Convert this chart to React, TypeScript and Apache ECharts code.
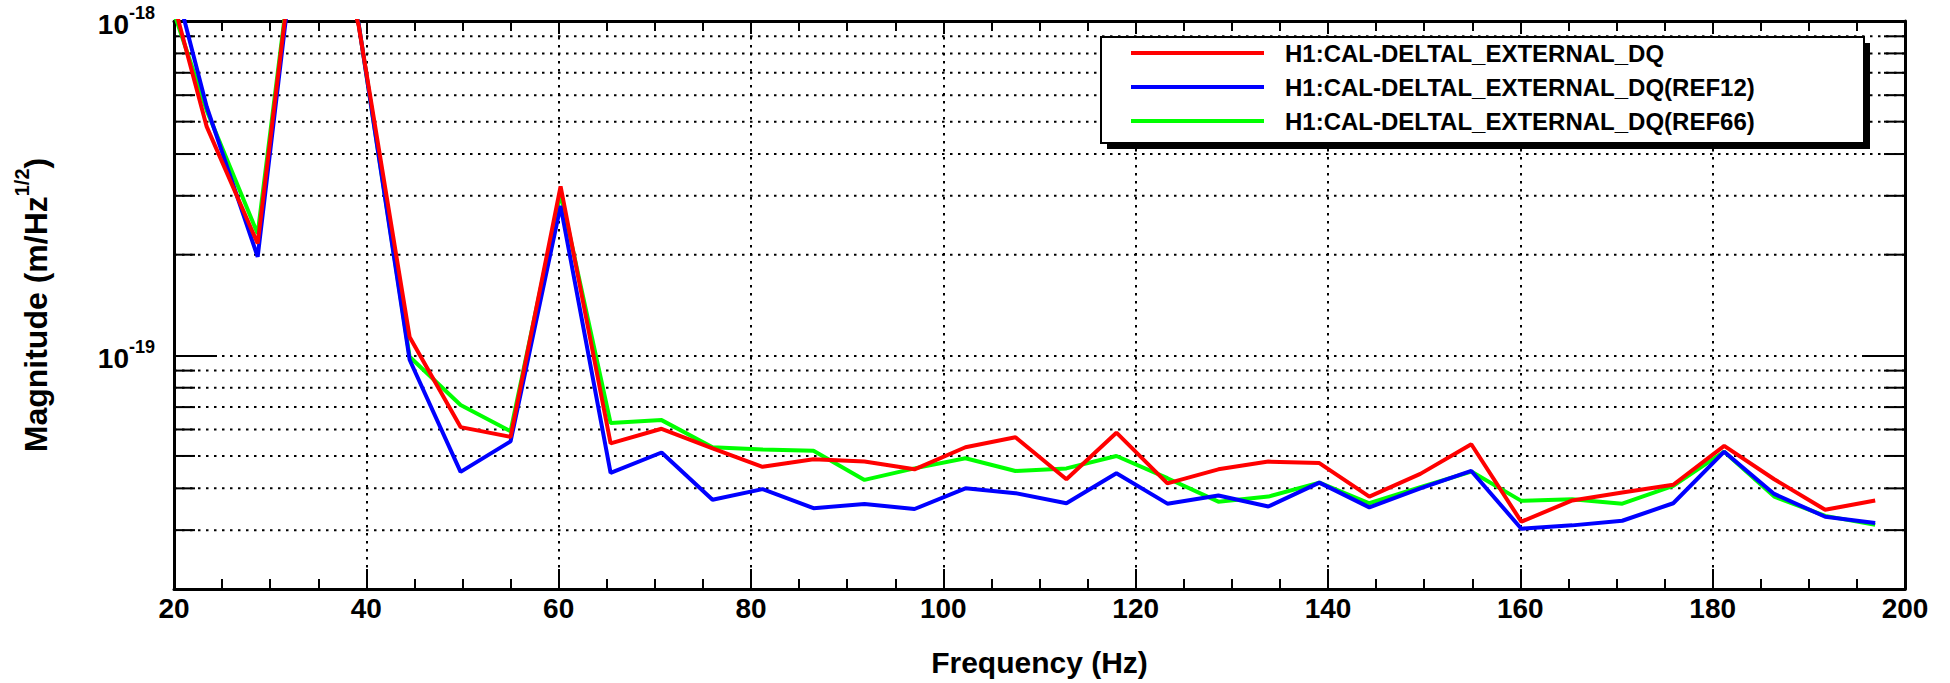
import React, { useEffect, useRef } from "react";
import * as echarts from "echarts";

// ---- data ----
const frequencies = [
  18.1, 23.4, 28.7, 33.9, 39.2, 44.5, 49.8, 55.0, 60.2, 65.4, 70.7, 76.0, 81.2, 86.5,
  91.8, 97.0, 102.3, 107.5, 112.8, 118.0, 123.3, 128.6, 133.8, 139.1, 144.3, 149.6,
  154.9, 160.1, 165.4, 170.6, 175.9, 181.2, 186.4, 191.7, 196.9,
];

const deltalValues = [
  1.8e-18, 4.83e-19, 2.16e-19, 3.7e-18, 0.97e-18, 1.135e-19, 6.1e-20, 5.7e-20, 3.2e-19,
  5.45e-20, 6.03e-20, 5.27e-20, 4.64e-20, 4.89e-20, 4.81e-20, 4.56e-20, 5.31e-20, 5.69e-20,
  4.26e-20, 5.87e-20, 4.14e-20, 4.56e-20, 4.81e-20, 4.76e-20, 3.78e-20, 4.42e-20, 5.42e-20,
  3.18e-20, 3.68e-20, 3.89e-20, 4.1e-20, 5.36e-20, 4.26e-20, 3.45e-20, 3.68e-20,
];

const ref12Values = [
  2.16e-18, 5.54e-19, 1.97e-19, 3.6e-18, 0.98e-18, 9.7e-20, 4.48e-20, 5.53e-20, 2.8e-19,
  4.45e-20, 5.12e-20, 3.7e-20, 3.98e-20, 3.49e-20, 3.59e-20, 3.47e-20, 4.0e-20, 3.87e-20,
  3.61e-20, 4.44e-20, 3.6e-20, 3.81e-20, 3.53e-20, 4.16e-20, 3.51e-20, 4.0e-20, 4.51e-20,
  3.03e-20, 3.1e-20, 3.2e-20, 3.61e-20, 5.15e-20, 3.85e-20, 3.29e-20, 3.15e-20,
];

const ref66Values = [
  1.54e-18, 5.4e-19, 2.31e-19, 3.67e-18, 0.98e-18, 9.9e-20, 7.1e-20, 5.93e-20, 3.05e-19,
  6.27e-20, 6.4e-20, 5.31e-20, 5.23e-20, 5.18e-20, 4.24e-20, 4.59e-20, 4.92e-20, 4.51e-20,
  4.59e-20, 5.0e-20, 4.29e-20, 3.65e-20, 3.78e-20, 4.16e-20, 3.61e-20, 4.03e-20, 4.49e-20,
  3.67e-20, 3.71e-20, 3.6e-20, 4.07e-20, 5.15e-20, 3.78e-20, 3.31e-20, 3.11e-20,
];

const seriesNames = [
  "H1:CAL-DELTAL_EXTERNAL_DQ",
  "H1:CAL-DELTAL_EXTERNAL_DQ(REF12)",
  "H1:CAL-DELTAL_EXTERNAL_DQ(REF66)",
];
const seriesColors = ["#ff0000", "#0000ff", "#00ff00"];

const xMin = 20;
const xMax = 200;
const xStep = 20;
const yMin = 2e-20;
const yMax = 1e-18;
const yMinorGrid = [
  3e-20, 4e-20, 5e-20, 6e-20, 7e-20, 8e-20, 9e-20,
  2e-19, 3e-19, 4e-19, 5e-19, 6e-19, 7e-19, 8e-19, 9e-19,
];

const xTitle = "Frequency (Hz)";
const yTitle = "{a|Magnitude (m/Hz}{s|1/2}{a|)}";

const FONT = "'Liberation Sans', Arial, Helvetica, sans-serif";
const DOT = [2.5, 5.5];

function zip(xs: number[], ys: number[]) {
  return xs.map((x, i) => [x, ys[i]]);
}

export default function App() {
  const ref = useRef<HTMLDivElement>(null);

  useEffect(() => {
    document.body.style.margin = "0";
    if (!ref.current) return;
    const chart = echarts.init(ref.current, undefined, { renderer: "svg" });

    const valueSets = [deltalValues, ref12Values, ref66Values];
    const lineSeries = [2, 1, 0].map((i) => ({
      name: seriesNames[i],
      type: "line",
      data: zip(frequencies, valueSets[i]),
      showSymbol: false,
      symbol: "none",
      lineStyle: { color: seriesColors[i], width: 4 },
      itemStyle: { color: seriesColors[i] },
      emphasis: { disabled: true },
      clip: true,
      z: 3,
    }));

    const option: any = {
      animation: false,
      textStyle: { fontFamily: FONT, color: "#000" },
      grid: { left: 174, right: 45, top: 21, bottom: 94, containLabel: false },
      legend: {
        data: seriesNames,
        orient: "vertical",
        left: 1101,
        top: 37,
        padding: [4, 0, 4, 28],
        itemWidth: 133,
        itemHeight: 26,
        itemGap: 10,
        selectedMode: false,
        z: 10,
        lineStyle: { width: 4 },
        itemStyle: { opacity: 0, color: "rgba(0,0,0,0)", borderWidth: 0 },
        textStyle: {
          fontSize: 24,
          fontWeight: "bold",
          fontFamily: FONT,
          color: "#000",
          padding: [0, 0, 0, 16],
        },
      },
      graphic: {
        elements: [
          {
            type: "rect",
            z: 8,
            shape: { x: 1107, y: 43, width: 763, height: 106 },
            style: { fill: "#000" },
            silent: true,
          },
          {
            type: "rect",
            z: 9,
            shape: { x: 1101, y: 37, width: 763, height: 106 },
            style: { fill: "#fff", stroke: "#000", lineWidth: 2 },
            silent: true,
          },
        ],
      },
      xAxis: [
        {
          type: "value",
          min: xMin,
          max: xMax,
          interval: xStep,
          name: xTitle,
          nameLocation: "middle",
          nameGap: 58,
          nameTextStyle: { fontSize: 30, fontWeight: "bold", fontFamily: FONT, color: "#000" },
          axisLine: { show: true, onZero: false, lineStyle: { color: "#000", width: 3 } },
          axisTick: { show: true, inside: true, length: 20, lineStyle: { color: "#000", width: 2 } },
          minorTick: { show: true, splitNumber: 4, length: 10, lineStyle: { color: "#000", width: 2 } },
          axisLabel: {
            show: true,
            margin: 5,
            fontSize: 28,
            fontWeight: "bold",
            fontFamily: FONT,
            color: "#000",
          },
          splitLine: { show: true, lineStyle: { color: "#000", width: 2, type: DOT } },
        },
        {
          type: "value",
          position: "top",
          min: xMin,
          max: xMax,
          interval: xStep,
          axisLine: { show: true, onZero: false, lineStyle: { color: "#000", width: 3 } },
          axisTick: { show: true, inside: true, length: 13, lineStyle: { color: "#000", width: 2 } },
          minorTick: { show: true, splitNumber: 4, length: 10, lineStyle: { color: "#000", width: 2 } },
          axisLabel: { show: false },
          splitLine: { show: false },
        },
      ],
      yAxis: [
        {
          type: "log",
          logBase: 10,
          min: yMin,
          max: yMax,
          name: yTitle,
          nameLocation: "middle",
          nameRotate: 90,
          nameGap: 122,
          nameTextStyle: {
            rich: {
              a: { fontSize: 32, fontWeight: "bold", fontFamily: FONT, color: "#000", padding: [8, 0, 0, 0] },
              s: { fontSize: 20, fontWeight: "bold", fontFamily: FONT, color: "#000", verticalAlign: "top" },
            },
          },
          axisLine: { show: true, onZero: false, lineStyle: { color: "#000", width: 3 } },
          axisTick: { show: true, inside: true, length: 43, lineStyle: { color: "#000", width: 2 } },
          axisLabel: {
            show: true,
            margin: 19,
            formatter: (v: number) => {
              const e = Math.log10(v);
              const r = Math.round(e);
              if (Math.abs(e - r) > 1e-6) return "";
              return `{b|10}{s|${r}}`;
            },
            rich: {
              b: { fontSize: 28, fontWeight: "bold", fontFamily: FONT, color: "#000", padding: [7, 0, 0, 0] },
              s: { fontSize: 18, fontWeight: "bold", fontFamily: FONT, color: "#000", verticalAlign: "top" },
            },
          },
          splitLine: { show: true, lineStyle: { color: "#000", width: 2, type: DOT } },
        },
        {
          type: "log",
          logBase: 10,
          min: yMin,
          max: yMax,
          position: "right",
          axisLine: { show: true, onZero: false, lineStyle: { color: "#000", width: 3 } },
          axisTick: { show: true, inside: true, length: 43, lineStyle: { color: "#000", width: 2 } },
          axisLabel: { show: false },
          splitLine: { show: false },
        },
      ],
      series: [
        {
          type: "custom",
          name: "minor-grid",
          coordinateSystem: "cartesian2d",
          xAxisIndex: 0,
          yAxisIndex: 0,
          silent: true,
          z: 1,
          data: yMinorGrid.map((v) => [xMin, v]),
          renderItem: (params: any, api: any) => {
            const v = api.value(1);
            const pL = api.coord([xMin, v]);
            const pR = api.coord([xMax, v]);
            return {
              type: "group",
              children: [
                {
                  type: "line",
                  shape: { x1: pL[0], y1: pL[1], x2: pR[0], y2: pR[1] },
                  style: { stroke: "#000", lineWidth: 2, lineDash: DOT },
                },
                {
                  type: "line",
                  shape: { x1: pL[0], y1: pL[1], x2: pL[0] + 21, y2: pL[1] },
                  style: { stroke: "#000", lineWidth: 2 },
                },
                {
                  type: "line",
                  shape: { x1: pR[0] - 21, y1: pR[1], x2: pR[0], y2: pR[1] },
                  style: { stroke: "#000", lineWidth: 2 },
                },
              ],
            };
          },
        },
        ...lineSeries,
      ],
    };

    chart.setOption(option);
    return () => chart.dispose();
  }, []);

  return <div ref={ref} style={{ width: 1950, height: 683 }} />;
}
